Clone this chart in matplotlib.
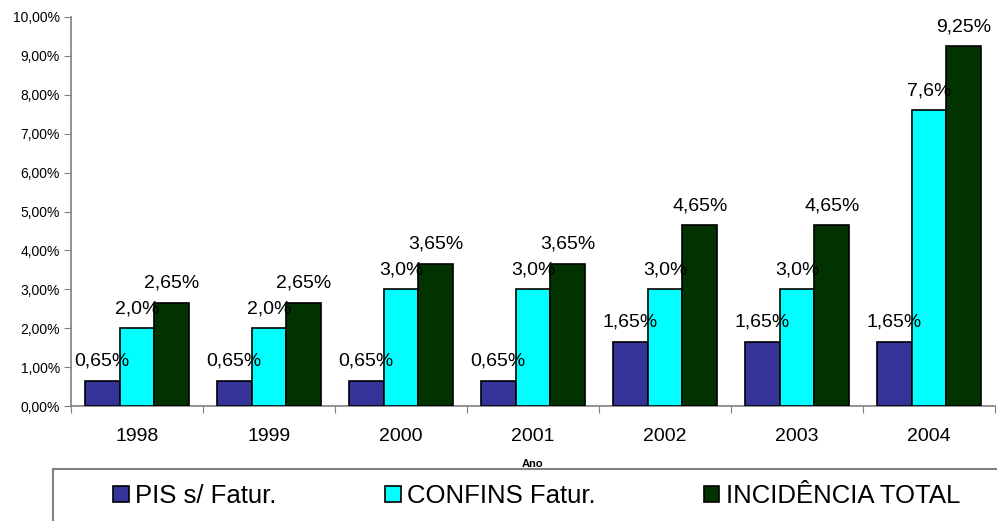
import matplotlib
matplotlib.use("Agg")
import matplotlib.pyplot as plt
from matplotlib.patches import Patch, Rectangle
from matplotlib.ticker import FuncFormatter, FixedLocator
import numpy as np

plt.rcParams['font.family'] = ['Liberation Sans', 'DejaVu Sans']

years = ['1998', '1999', '2000', '2001', '2002', '2003', '2004']
pis = [0.65, 0.65, 0.65, 0.65, 1.65, 1.65, 1.65]
confins = [2.0, 2.0, 3.0, 3.0, 3.0, 3.0, 7.6]
total = [2.65, 2.65, 3.65, 3.65, 4.65, 4.65, 9.25]
pis_labels = ['0,65%', '0,65%', '0,65%', '0,65%', '1,65%', '1,65%', '1,65%']
confins_labels = ['2,0%', '2,0%', '3,0%', '3,0%', '3,0%', '3,0%', '7,6%']
total_labels = ['2,65%', '2,65%', '3,65%', '3,65%', '4,65%', '4,65%', '9,25%']
series_names = ['PIS s/ Fatur.', 'CONFINS Fatur.', 'INCIDÊNCIA TOTAL']
colors = ['#333399', '#00FFFF', '#003300']

fig = plt.figure(figsize=(9.97, 5.21), dpi=100)
ax = fig.add_axes([71/997, 1-406/521, (995-71)/997, (406-17)/521])

x = np.arange(len(years))
w = 0.265
series = [(pis, pis_labels), (confins, confins_labels), (total, total_labels)]
for i, ((vals, labs), c) in enumerate(zip(series, colors)):
    xs = x + (i - 1) * w
    bars = ax.bar(xs, [v / 100 for v in vals], width=w, color=c,
                  edgecolor='black', linewidth=1.2, zorder=3)
    for b, lab in zip(bars, labs):
        ax.annotate(lab, (b.get_x() + b.get_width() / 2, b.get_height()),
                    xytext=(0, 8), textcoords='offset points',
                    ha='center', va='bottom', fontsize=14, zorder=4)

ax.set_xlim(-0.5, len(years) - 0.5)
ax.set_ylim(0, 0.10)
ax.set_yticks(np.arange(0, 0.1001, 0.01))
ax.yaxis.set_major_formatter(FuncFormatter(lambda v, p: f"{v*100:.2f}%".replace('.', ',')))
ax.tick_params(axis='y', labelsize=10, length=5, color='#808080', pad=3)

ax.xaxis.set_major_locator(FixedLocator(np.arange(-0.5, len(years), 1.0)))
ax.xaxis.set_minor_locator(FixedLocator(x))
ax.set_xticklabels([], minor=False)
ax.set_xticklabels(years, minor=True)
ax.tick_params(axis='x', which='major', length=5, color='#808080')
ax.tick_params(axis='x', which='minor', length=0, labelsize=14, pad=16)

for s in ['top', 'right']:
    ax.spines[s].set_visible(False)
for s in ['left', 'bottom']:
    ax.spines[s].set_color('#808080')
    ax.spines[s].set_linewidth(1.2)

fig.text((71 + 995) / 2 / 997, 1 - 464 / 521, 'Ano', ha='center', va='center',
         fontsize=8, fontweight='bold')

fig.patches.append(Rectangle((53/997, -0.1), 1.0, 0.1 + (1 - 469/521),
                             transform=fig.transFigure, fill=False,
                             edgecolor='#808080', linewidth=1.5))

handles = [Patch(facecolor=c, edgecolor='black', linewidth=1.2) for c in colors]
fig.legend(handles, series_names, loc='center left',
           bbox_to_anchor=(113/997, 1 - 496/521), ncol=3, frameon=False,
           fontsize=18.5, handlelength=0.62, handleheight=0.62, handletextpad=0.25,
           columnspacing=4.2, borderpad=0, borderaxespad=0)

fig.savefig('out.png', dpi=100)
